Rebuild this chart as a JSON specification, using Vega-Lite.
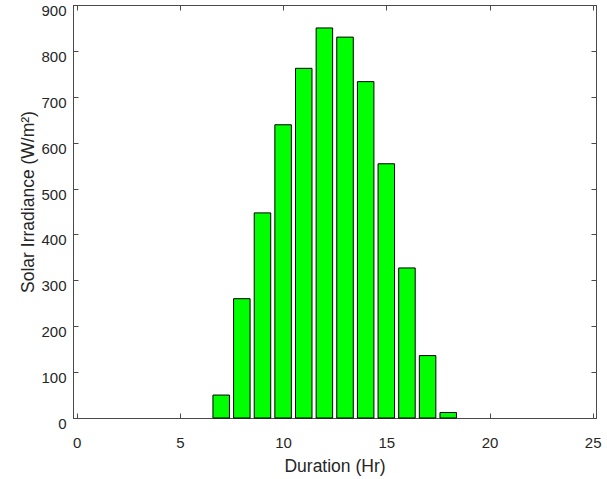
{
  "$schema": "https://vega.github.io/schema/vega-lite/v6.json",
  "autosize": {"type": "none"},
  "padding": {"left": 73, "top": 5, "right": 11, "bottom": 61},
  "width": 523,
  "height": 413,
  "background": "white",
  "config": {
    "view": {"stroke": "#4a4a4a", "strokeWidth": 1},
    "font": "Liberation Sans",
    "axis": {
      "domainColor": "#4a4a4a",
      "tickColor": "#4a4a4a",
      "labelColor": "#262626",
      "titleColor": "#262626",
      "labelFont": "Liberation Sans",
      "titleFont": "Liberation Sans",
      "labelFontSize": 15,
      "titleFontSize": 17.5,
      "titleFontWeight": "normal",
      "grid": false,
      "domainWidth": 1,
      "tickWidth": 1
    }
  },
  "data": {
    "values": [
      {"hour": 7, "irr": 50}, {"hour": 8, "irr": 260},
      {"hour": 9, "irr": 447}, {"hour": 10, "irr": 639}, {"hour": 11, "irr": 762},
      {"hour": 12, "irr": 850}, {"hour": 13, "irr": 830}, {"hour": 14, "irr": 733},
      {"hour": 15, "irr": 554}, {"hour": 16, "irr": 327}, {"hour": 17, "irr": 136},
      {"hour": 18, "irr": 12}
    ]
  },
  "layer": [
    {
      "mark": {"type": "bar", "width": 16.5, "fill": "#00ff00", "stroke": "#000000", "strokeWidth": 1},
      "encoding": {
        "x": {
          "field": "hour", "type": "quantitative",
          "scale": {"domain": [-0.18, 25.16], "nice": false, "zero": false, "padding": 0},
          "axis": {"orient": "bottom", "title": "Duration (Hr)", "tickCount": 6, "tickSize": -5, "labelPadding": 22, "titlePadding": 7, "labelFlush": false}
        },
        "y": {
          "field": "irr", "type": "quantitative",
          "scale": {"domain": [0, 900], "nice": false, "padding": 0},
          "axis": {"orient": "left", "title": "Solar Irradiance (W/m²)", "tickCount": 10, "tickSize": -5, "labelPadding": 12, "labelOffset": 5.5, "titlePadding": 3, "titleY": 196.5, "labelFlush": false}
        }
      }
    },
    {
      "mark": {"type": "point", "opacity": 0},
      "encoding": {
        "x": {
          "field": "hour", "type": "quantitative",
          "scale": {"domain": [-0.18, 25.16], "nice": false, "zero": false},
          "axis": {"orient": "top", "title": null, "labels": false, "tickCount": 6, "tickSize": -5}
        },
        "y": {
          "field": "irr", "type": "quantitative",
          "scale": {"domain": [0, 900], "nice": false},
          "axis": {"orient": "right", "title": null, "labels": false, "tickCount": 10, "tickSize": -5}
        }
      }
    }
  ],
  "resolve": {"scale": {"x": "independent", "y": "independent"}}
}
